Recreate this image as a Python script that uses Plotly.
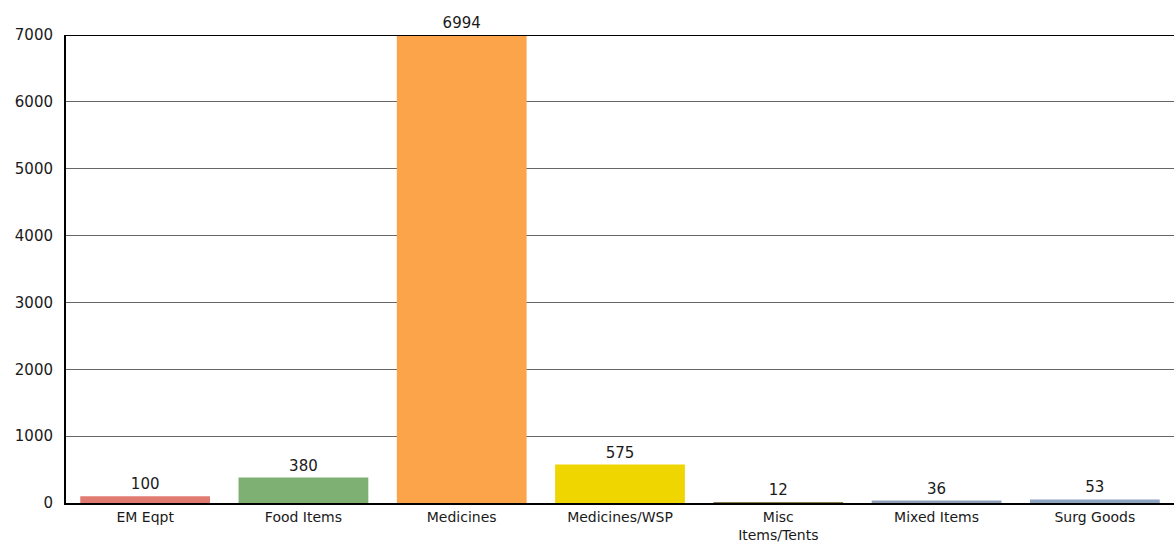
import plotly.graph_objects as go

categories = ["EM Eqpt", "Food Items", "Medicines", "Medicines/WSP", "Misc<br>Items/Tents", "Mixed Items", "Surg Goods"]
values = [100, 380, 6994, 575, 12, 36, 53]
colors = ["#e07b72", "#7db072", "#fba44a", "#efd600", "#8b7a4e", "#8fa0b8", "#8fa4c0"]
tick_vals = [0, 1000, 2000, 3000, 4000, 5000, 6000, 7000]

fig = go.Figure(go.Bar(
    x=categories, y=values, marker_color=colors,
    marker_line_width=0,
    text=[str(v) for v in values], textposition="outside",
    textfont=dict(family="Verdana, DejaVu Sans", size=15, color="#1a1a1a"),
    cliponaxis=False,
))
fig.update_layout(
    width=1174, height=544,
    margin=dict(l=66, r=0, t=35, b=41),
    paper_bgcolor="white", plot_bgcolor="white",
    bargap=0.18, showlegend=False,
    font=dict(family="Verdana, DejaVu Sans", size=15, color="#1a1a1a"),
)
fig.update_yaxes(range=[0, 7000], tickvals=tick_vals, showgrid=True, gridcolor="#666", gridwidth=1,
                 showline=True, linecolor="black", linewidth=2, ticks="", zeroline=False,
                 ticklabelstandoff=8, automargin=False)
fig.update_xaxes(showline=True, linecolor="black", linewidth=2, ticks="", showgrid=False,
                 tickfont=dict(size=14), ticklabelstandoff=0, automargin=False)
fig.add_shape(type="line", xref="paper", yref="y", x0=0, x1=1, y0=7000, y1=7000, line=dict(color="black", width=2))
fig.write_html("out.html")
